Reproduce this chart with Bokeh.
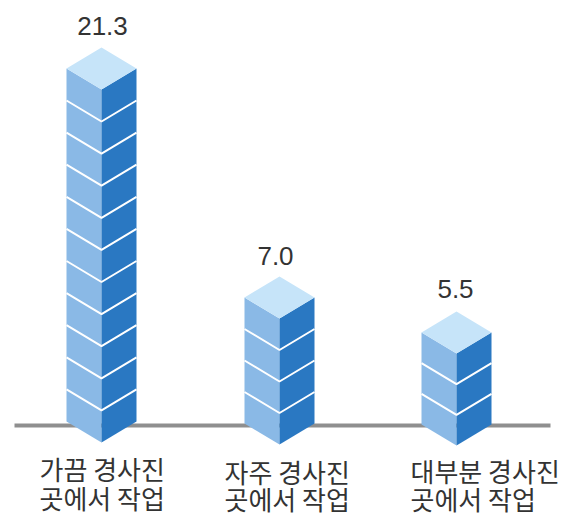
from bokeh.plotting import figure
from bokeh.models import Range1d
from bokeh.core.properties import value
from bokeh.embed import file_html
from bokeh.resources import INLINE

values = ["21.3", "7.0", "5.5"]
blocks = [11, 4, 3]
line1 = ["가끔 경사진", "자주 경사진", "대부분 경사진"]
line2 = ["곳에서 작업", "곳에서 작업", "곳에서 작업"]

W, H = 571, 517
BLOCK_PX = [32.1, 31.5, 30.7]      # drawn height of one block
BASE_PX = [442, 444, 445]          # screen y of front corner bottom
CENTER_PX = [101, 279, 456]        # screen x of front corner
HALF = 35
SKEW = 21
LABEL_X = [39, 224, 410]
L1_Y = [468, 471, 470]
L2_Y = [497, 498, 498]
VAL_X = [102, 275, 455]
VAL_Y = [25, 255, 288]

# x data unit: category index; y data unit: block
X0, DX = 101, 177.5
Y0, DY = 444, 32.0
sx = lambda px: (px - X0) / DX
sy = lambda py: (Y0 - py) / DY

p = figure(width=W, height=H, output_backend="svg", toolbar_location=None,
           x_range=Range1d(sx(0), sx(W)), y_range=Range1d(sy(H), sy(0)),
           min_border=0, outline_line_color=None)
p.axis.visible = False
p.grid.visible = False
p.background_fill_color = "white"
p.border_fill_color = "white"

p.line([sx(14), sx(550)], [sy(425), sy(425)], line_color="#8f8f8f", line_width=4)

for i, n in enumerate(blocks):
    c = CENTER_PX[i]
    b = BASE_PX[i]
    t = b - n * BLOCK_PX[i]
    l, r = c - HALF, c + HALF
    p.patch([sx(l), sx(c), sx(c), sx(l)], [sy(t - SKEW), sy(t), sy(b), sy(b - SKEW)],
            fill_color="#8ab9e6", line_color=None)
    p.patch([sx(c), sx(r), sx(r), sx(c)], [sy(t), sy(t - SKEW), sy(b - SKEW), sy(b)],
            fill_color="#2a78c2", line_color=None)
    p.patch([sx(l), sx(c), sx(r), sx(c)], [sy(t - SKEW), sy(t), sy(t - SKEW), sy(t - 2 * SKEW)],
            fill_color="#c6e4f9", line_color=None)
    for k in range(1, n):
        y = b - k * BLOCK_PX[i]
        p.line([sx(l), sx(c), sx(r)], [sy(y - SKEW), sy(y), sy(y - SKEW)],
               line_color="white", line_width=2)

font = value("Noto Sans CJK KR")
p.text([sx(v) for v in VAL_X], [sy(v) for v in VAL_Y], text=values,
       text_font=value("Liberation Sans"), text_font_size="26px", text_color="#333333",
       text_align="center", text_baseline="middle")
p.text([sx(v) for v in LABEL_X], [sy(v) for v in L1_Y], text=line1,
       text_font=font, text_font_size="26px", text_color="#333333",
       text_align="left", text_baseline="middle")
p.text([sx(v) for v in LABEL_X], [sy(v) for v in L2_Y], text=line2,
       text_font=font, text_font_size="26px", text_color="#333333",
       text_align="left", text_baseline="middle")

open("out.html", "w").write(file_html(p, INLINE))
